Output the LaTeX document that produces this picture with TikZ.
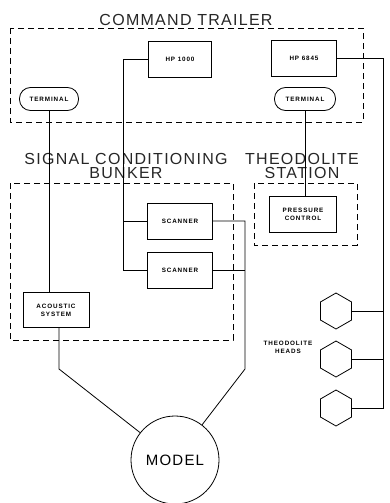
\documentclass[tikz,border=0pt]{standalone}
\usepackage{fontspec}
\setmainfont{Liberation Sans}
\newfontfamily\boxfont[LetterSpace=14.0]{Liberation Sans}
\newfontfamily\titlefont[LetterSpace=8.0]{Liberation Sans}
\usetikzlibrary{
    calc,
    shapes.geometric
}
\tikzset{
  every path/.style={
    black,
    line width=0.8pt
  },
  every node/.style={
    inner sep=1.5pt
  },
  unit/.style={
    draw,
    minimum width=65pt,
    minimum height=36pt,
    align=center,
    font=\boxfont\bfseries\fontsize{6.3}{8}\selectfont
  },
  term/.style={
    unit,
    rounded corners=11pt,
    minimum width=59pt,
    minimum height=23pt
  },
  head/.style={
    draw,
    regular polygon,
    regular polygon sides=6,
    shape border rotate=30,
    minimum size=36pt,
    inner sep=0pt
  },
  area/.style={
    draw,
    dashed,
    dash pattern=on 6pt off 4pt
  },
  areatitle/.style={
    align=center,
    text=black!85,
    font=\titlefont\fontsize{16}{14.5}\selectfont
  }
}

\begin{document}
\begin{tikzpicture}[x=1pt,y=-1pt]
    \useasboundingbox (0,0) rectangle (389,503);

    % gestrichelte Bereiche
    \draw[area] (10,28) rectangle (363,122);
    \draw[area] (10,183) rectangle (233,340);
    \draw[area] (254,183) rectangle (357,245);

    % Bereichstitel
    \node[areatitle,fill=white,inner xsep=3pt] (trailer) at (186,20) {COMMAND TRAILER};
    \node[areatitle] (bunker) at (126,166) {SIGNAL CONDITIONING\\BUNKER};
    \node[areatitle] (station) at (302,166) {THEODOLITE\\STATION};

    % Geraete
    \node[unit,minimum width=63pt] (hpa) at (180,59) {HP 1000};
    \node[unit] (hpb) at (304,58) {HP 6845};
    \node[term] (tla) at (49,99) {TERMINAL};
    \node[term,minimum width=61pt] (tlb) at (305,99) {TERMINAL};
    \node[unit] (sca) at (180,221) {SCANNER};
    \node[unit] (scb) at (180,270) {SCANNER};
    \node[unit,minimum width=67pt] (pctl) at (303,214) {PRESSURE\\CONTROL};
    \node[unit,minimum width=66pt,minimum height=35pt] (acou) at (56,310) {ACOUSTIC\\SYSTEM};
    \node[draw,circle,minimum size=88pt,font=\titlefont\fontsize{15}{15}\selectfont] (model) at (175,460) {MODEL};

    % Theodolitkoepfe
    \node[head] (hxa) at (336,311) {};
    \node[head] (hxb) at (336,359) {};
    \node[head] (hxc) at (336,408) {};
    \node[align=center,font=\boxfont\bfseries\fontsize{6.3}{8}\selectfont] (heads) at (288,347) {THEODOLITE\\HEADS};

    % Knickpunkte
    \coordinate (busl) at (123,270);
    \coordinate (busr) at (383,408);
    \coordinate (kneel) at (59,369);
    \coordinate (kneer) at (245,369);

    % Verbindungen
    \draw (tla.south) -- (tla.south |- acou.north);
    \draw (tlb.south) -- (tlb.south |- pctl.north);
    \draw (hpa.west) -| (busl) -- (scb.west);
    \draw (sca.west) -- (sca.west -| busl);
    \draw (hpb.east) -| (busr) -- (hxc.east);
    \draw (hxa.east) -- (hxa.east -| busr);
    \draw (hxb.east) -- (hxb.east -| busr);
    \draw (sca.east) -| (kneer) -- (model);
    \draw (scb.east) -- (scb.east -| kneer);
    \draw (acou.south -| kneel) -- (kneel) -- (model);
\end{tikzpicture}
\end{document}
